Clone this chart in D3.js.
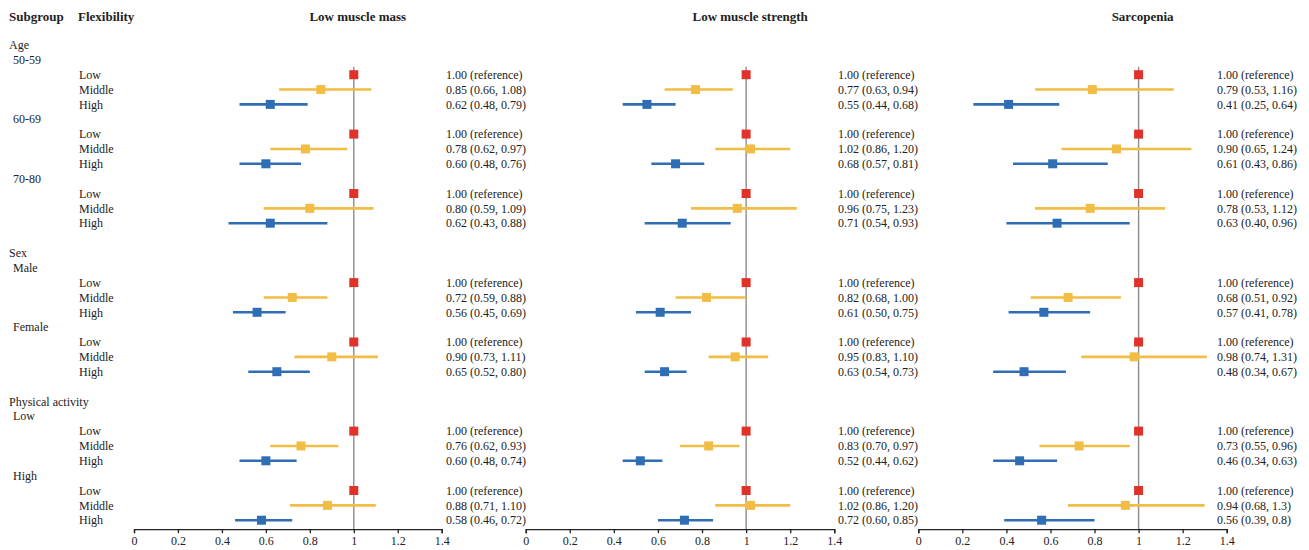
<!DOCTYPE html>
<html>
<head>
<meta charset="utf-8">
<script src="https://cdn.jsdelivr.net/npm/d3@7"></script>
<style>
  body { margin: 0; background: #fff; }
  text { font-family: "Liberation Serif", "Times New Roman", serif; fill: #222; }
</style>
</head>
<body>
<div id="chart"></div>
<script>
// groups and subgroups, rows go top to bottom
var groups = ["Age", "Sex", "Physical activity"];
var subgroups = [["50-59", "60-69", "70-80"], ["Male", "Female"], ["Low", "High"]];
var levels = ["Low", "Middle", "High"];
var outcomes = ["Low muscle mass", "Low muscle strength", "Sarcopenia"];
var ticks = [0, 0.2, 0.4, 0.6, 0.8, 1, 1.2, 1.4];

// one entry per subgroup: [middle, high]; low is the reference (1.00)
var massEst = [[0.85, 0.62], [0.78, 0.60], [0.80, 0.62], [0.72, 0.56], [0.90, 0.65], [0.76, 0.60], [0.88, 0.58]];
var massLo  = [[0.66, 0.48], [0.62, 0.48], [0.59, 0.43], [0.59, 0.45], [0.73, 0.52], [0.62, 0.48], [0.71, 0.46]];
var massHi  = [[1.08, 0.79], [0.97, 0.76], [1.09, 0.88], [0.88, 0.69], [1.11, 0.80], [0.93, 0.74], [1.10, 0.72]];

var strEst = [[0.77, 0.55], [1.02, 0.68], [0.96, 0.71], [0.82, 0.61], [0.95, 0.63], [0.83, 0.52], [1.02, 0.72]];
var strLo  = [[0.63, 0.44], [0.86, 0.57], [0.75, 0.54], [0.68, 0.50], [0.83, 0.54], [0.70, 0.44], [0.86, 0.60]];
var strHi  = [[0.94, 0.68], [1.20, 0.81], [1.23, 0.93], [1.00, 0.75], [1.10, 0.73], [0.97, 0.62], [1.20, 0.85]];

var sarEst = [[0.79, 0.41], [0.90, 0.61], [0.78, 0.63], [0.68, 0.57], [0.98, 0.48], [0.73, 0.46], [0.94, 0.56]];
var sarLo  = [[0.53, 0.25], [0.65, 0.43], [0.53, 0.40], [0.51, 0.41], [0.74, 0.34], [0.55, 0.34], [0.68, 0.39]];
var sarHi  = [[1.16, 0.64], [1.24, 0.86], [1.12, 0.96], [0.92, 0.78], [1.31, 0.67], [0.96, 0.63], [1.30, 0.80]];

// text as printed in the figure
var massText = [["0.85 (0.66, 1.08)", "0.62 (0.48, 0.79)"], ["0.78 (0.62, 0.97)", "0.60 (0.48, 0.76)"], ["0.80 (0.59, 1.09)", "0.62 (0.43, 0.88)"], ["0.72 (0.59, 0.88)", "0.56 (0.45, 0.69)"], ["0.90 (0.73, 1.11)", "0.65 (0.52, 0.80)"], ["0.76 (0.62, 0.93)", "0.60 (0.48, 0.74)"], ["0.88 (0.71, 1.10)", "0.58 (0.46, 0.72)"]];
var strText = [["0.77 (0.63, 0.94)", "0.55 (0.44, 0.68)"], ["1.02 (0.86, 1.20)", "0.68 (0.57, 0.81)"], ["0.96 (0.75, 1.23)", "0.71 (0.54, 0.93)"], ["0.82 (0.68, 1.00)", "0.61 (0.50, 0.75)"], ["0.95 (0.83, 1.10)", "0.63 (0.54, 0.73)"], ["0.83 (0.70, 0.97)", "0.52 (0.44, 0.62)"], ["1.02 (0.86, 1.20)", "0.72 (0.60, 0.85)"]];
var sarText = [["0.79 (0.53, 1.16)", "0.41 (0.25, 0.64)"], ["0.90 (0.65, 1.24)", "0.61 (0.43, 0.86)"], ["0.78 (0.53, 1.12)", "0.63 (0.40, 0.96)"], ["0.68 (0.51, 0.92)", "0.57 (0.41, 0.78)"], ["0.98 (0.74, 1.31)", "0.48 (0.34, 0.67)"], ["0.73 (0.55, 0.96)", "0.46 (0.34, 0.63)"], ["0.94 (0.68, 1.3)", "0.56 (0.39, 0.8)"]];
var refText = "1.00 (reference)";

var panels = [
  {est: massEst, lo: massLo, hi: massHi, txt: massText},
  {est: strEst, lo: strLo, hi: strHi, txt: strText},
  {est: sarEst, lo: sarLo, hi: sarHi, txt: sarText}
];

var svgWidth = 1309;
var svgHeight = 550;
var levelColor = ["#e1322a", "#f1bd45", "#2f6db4"];

var panelRange = [[134, 441.7], [525.7, 834.3], [918.3, 1226.7]];
var textX = [446, 838, 1217];

var svg = d3.select("#chart").append("svg")
  .attr("width", svgWidth)
  .attr("height", svgHeight);

// build row list
var rows = [];
var subIndex = 0;
groups.forEach(function(g, gi) {
  if (gi > 0) rows.push({type: "blank"});
  rows.push({type: "group", label: g});
  subgroups[gi].forEach(function(s) {
    rows.push({type: "sub", label: s});
    levels.forEach(function(l, li) {
      rows.push({type: "level", label: l, level: li, sub: subIndex});
    });
    subIndex++;
  });
});

var y = d3.scaleLinear()
  .domain([0, rows.length - 1])
  .range([45, 520.2]);

var axisY = y(rows.length - 1) + 9;

// headers
svg.append("text").attr("x", 9).attr("y", 21)
  .style("font-weight", "bold").style("font-size", "13px").text("Subgroup");
svg.append("text").attr("x", 78).attr("y", 21)
  .style("font-weight", "bold").style("font-size", "13px").text("Flexibility");

// left labels
rows.forEach(function(r, i) {
  if (r.type === "blank") return;
  var xPos = r.type === "group" ? 9 : (r.type === "sub" ? 13 : 79);
  svg.append("text")
    .attr("x", xPos)
    .attr("y", y(i))
    .attr("dy", "0.35em")
    .style("font-size", "12px")
    .text(r.label);
});

var levelRows = rows.map(function(r, i) { return {r: r, i: i}; })
  .filter(function(d) { return d.r.type === "level"; });

panels.forEach(function(p, pi) {
  var x = d3.scaleLinear().domain([0, 1.4]).range(panelRange[pi]);
  var g = svg.append("g");

  g.append("text")
    .attr("x", x(1) + 4)
    .attr("y", 21)
    .attr("text-anchor", "middle")
    .style("font-weight", "bold")
    .style("font-size", "13px")
    .text(outcomes[pi]);

  // reference line at 1
  g.append("line")
    .attr("x1", x(1)).attr("x2", x(1))
    .attr("y1", y(2) - 8).attr("y2", axisY)
    .attr("stroke", "#8c8c8c")
    .attr("stroke-width", 1.4);

  var axis = d3.axisBottom(x)
    .tickValues(ticks)
    .tickSize(4)
    .tickFormat(function(d) { return String(+d.toFixed(1)); });

  var ax = g.append("g")
    .attr("transform", "translate(0," + axisY + ")")
    .call(axis);
  ax.select(".domain").attr("stroke", "#222").attr("stroke-width", 1.3);
  ax.selectAll(".tick line").attr("stroke", "#222").attr("stroke-width", 1.3);
  ax.selectAll(".tick text")
    .style("font-family", "Liberation Serif, serif")
    .style("font-size", "12px")
    .attr("fill", "#222");

  levelRows.forEach(function(d) {
    var li = d.r.level;
    var s = d.r.sub;
    var yy = y(d.i);
    var est, lo, hi, label;
    if (li === 0) {
      est = 1; lo = null; hi = null; label = refText;
    } else {
      est = p.est[s][li - 1];
      lo = p.lo[s][li - 1];
      hi = p.hi[s][li - 1];
      label = p.txt[s][li - 1];
    }
    if (lo !== null) {
      g.append("line")
        .attr("x1", x(lo)).attr("x2", x(hi))
        .attr("y1", yy).attr("y2", yy)
        .attr("stroke", levelColor[li])
        .attr("stroke-width", 2.6);
    }
    var size = 9;
    g.append("rect")
      .attr("x", x(est) - size / 2)
      .attr("y", yy - size / 2)
      .attr("width", size)
      .attr("height", size)
      .attr("fill", levelColor[li]);

    g.append("text")
      .attr("x", textX[pi])
      .attr("y", yy)
      .attr("dy", "0.35em")
      .style("font-size", "12px")
      .text(label);
  });
});
</script>
</body>
</html>
